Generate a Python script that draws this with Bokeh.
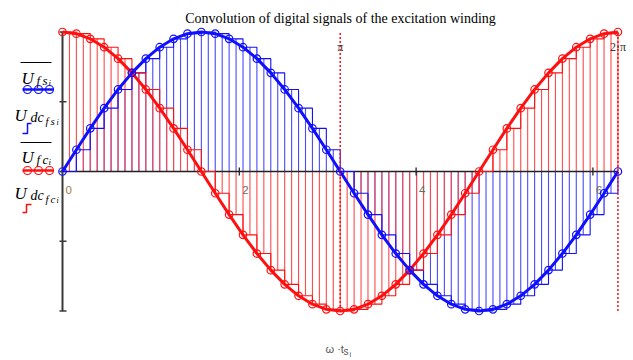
from bokeh.plotting import figure
from bokeh.models import Range1d, ColumnDataSource
from bokeh.core.properties import value
from bokeh.embed import file_html
from bokeh.resources import INLINE
import math

# ---------------- data ----------------
N_SAMPLES = 40                      # samples per period (read from the circles)
ts = [k * 2 * math.pi / N_SAMPLES for k in range(N_SAMPLES + 1)]   # sample instants (omega*t)

U_fs = [0.0, 0.156, 0.309, 0.454, 0.588, 0.707, 0.809, 0.891, 0.951, 0.988,
        1.0, 0.988, 0.951, 0.891, 0.809, 0.707, 0.588, 0.454, 0.309, 0.156,
        0.0, -0.156, -0.309, -0.454, -0.588, -0.707, -0.809, -0.891, -0.951, -0.988,
        -1.0, -0.988, -0.951, -0.891, -0.809, -0.707, -0.588, -0.454, -0.309, -0.156,
        0.0]
U_fc = [1.0, 0.988, 0.951, 0.891, 0.809, 0.707, 0.588, 0.454, 0.309, 0.156,
        0.0, -0.156, -0.309, -0.454, -0.588, -0.707, -0.809, -0.891, -0.951, -0.988,
        -1.0, -0.988, -0.951, -0.891, -0.809, -0.707, -0.588, -0.454, -0.309, -0.156,
        0.0, 0.156, 0.309, 0.454, 0.588, 0.707, 0.809, 0.891, 0.951, 0.988,
        1.0]

x_ticks = [0, 2, 4, 6]
x_tick_labels = ["0", "2", "4", "6"]
y_ticks = [-1, -0.5, 0, 0.5, 1]
markers = [math.pi, 2 * math.pi]
marker_labels = ["π", "2·π"]

title = "Convolution of digital signals of the excitation winding"

BLUE = "#1010ff"
RED = "#ff1010"
BLUE_STEM = "#4a4aff"
RED_STEM = "#ff4a4a"

# ---------------- pixel helpers (frame fills the whole canvas) ----------------
W, H = 633, 360
X0, SX = 62.0, 88.4      # px of x=0, px per unit
Y0, SY = 171.0, 139.5    # px of y=0, px per unit


def X(px):
    return (px - X0) / SX


def Y(py):
    return (Y0 - py) / SY


p = figure(width=W, height=H, output_backend="svg", toolbar_location=None,
           x_range=Range1d(X(0), X(W)), y_range=Range1d(Y(H), Y(0)),
           x_axis_location=None, y_axis_location=None, title=None, min_border=0)
p.grid.visible = False
p.outline_line_color = None
p.background_fill_color = "white"


def txt(px, py, s, size, color="black", font="Liberation Serif", style="normal",
        align="left", baseline="alphabetic"):
    p.text(x=[X(px)], y=[Y(py)], text=[s], text_font=value(font),
           text_font_size=f"{size}px", text_color=color, text_font_style=style,
           text_align=align, text_baseline=baseline)


# ---------------- stems (bars of the held signals): blue first, red on top ----------------
h = ts[1] - ts[0]
for series, col in ((U_fs, BLUE_STEM), (U_fc, RED_STEM)):
    sx, sy = [], []
    for k in range(N_SAMPLES + 1):
        positions = [ts[k]] if k == N_SAMPLES else [ts[k], ts[k] + h / 2]
        for xp in positions:
            sx.append(xp)
            sy.append(series[k])
    src = ColumnDataSource(dict(x0=sx, y0=[0] * len(sx), x1=sx, y1=sy))
    p.segment(x0="x0", y0="y0", x1="x1", y1="y1", line_color=col, line_width=1.1,
              source=src)

# ---------------- axes ----------------
p.segment(x0=[X(60)], y0=[0], x1=[2 * math.pi], y1=[0], line_color="#222222", line_width=1.3)
for t in x_ticks[1:]:
    p.segment(x0=[t], y0=[Y(167)], x1=[t], y1=[Y(175)], line_color="#222222", line_width=1.3)
for t, lab in zip(x_ticks, x_tick_labels):
    txt(X0 + t * SX + 3, 189, lab, 11.5, color="#a27a48" if lab == "0" else "#6f6a5e",
        font="Liberation Sans")
p.segment(x0=[0], y0=[-1], x1=[0], y1=[1], line_color="#3a3a3a", line_width=2)
for v in y_ticks:
    p.segment(x0=[X(59)], y0=[v], x1=[X(66)], y1=[v], line_color="#3a3a3a", line_width=1.5)

# ---------------- held (step) signals ----------------
p.step(ts, U_fs, mode="after", line_color=BLUE, line_width=1.1)
p.step(ts, U_fc, mode="after", line_color=RED, line_width=1.1)

# ---------------- continuous signals with circle markers ----------------
p.line(ts, U_fc, line_color=RED, line_width=3)
p.line(ts, U_fs, line_color=BLUE, line_width=3)
p.scatter(ts, U_fc, marker="circle", size=7.5, fill_color=None, line_color=RED, line_width=1.2)
p.scatter(ts, U_fs, marker="circle", size=7.5, fill_color=None, line_color=BLUE, line_width=1.2)

# ---------------- marker lines at pi and 2pi ----------------
for m, lab in zip(markers, marker_labels):
    p.segment(x0=[m], y0=[-1], x1=[m], y1=[1], line_color=RED, line_width=1.5,
              line_dash="2 2")
    txt(X0 + m * SX, 46, lab, 12, color="#333333", align="center")

# ---------------- title and x label ----------------
txt(340, 18, title, 14, align="center")
txt(325, 348, "ω ·t", 11, color="#555555", font="Liberation Sans")
txt(343, 351, "s", 10, color="#555555", font="Liberation Sans")
txt(349, 354, "i", 7.5, color="#555555", font="Liberation Sans")

# ---------------- left-hand legend (trace names) ----------------
# 1: overline U_{f s_i}
p.segment(x0=[X(20)], y0=[Y(62)], x1=[X(51)], y1=[Y(62)], line_color="black", line_width=1)
txt(21, 78, "U", 17, style="italic")
txt(36, 80, "f", 13, style="italic")
txt(42, 80, "s", 13, style="italic")
txt(48, 82, "i", 9, style="italic")
p.line([X(22), X(53)], [Y(89), Y(89)], line_color=BLUE, line_width=2.5)
p.scatter([X(27), X(38), X(49)], [Y(89)] * 3, marker="circle", size=8, fill_color=None,
          line_color=BLUE, line_width=1.2)
# 2: U_{dc_{f s_i}}
txt(14, 115, "U", 17, style="italic")
txt(30, 117, "dc", 14, style="italic")
txt(45, 120, "f", 11, style="italic")
txt(50, 120, "s", 11, style="italic")
txt(56, 122, "i", 8, style="italic")
p.line([X(22), X(27), X(27), X(31)], [Y(133), Y(133), Y(123), Y(123)],
       line_color=BLUE, line_width=1.5)
# 3: overline U_{f c_i}
p.segment(x0=[X(20)], y0=[Y(142)], x1=[X(51)], y1=[Y(142)], line_color="black", line_width=1)
txt(21, 157, "U", 17, style="italic")
txt(36, 159, "f", 13, style="italic")
txt(42, 159, "c", 13, style="italic")
txt(48, 161, "i", 9, style="italic")
p.line([X(22), X(53)], [Y(170), Y(170)], line_color=RED, line_width=2.5)
p.scatter([X(27), X(38), X(49)], [Y(170)] * 3, marker="circle", size=8, fill_color=None,
          line_color=RED, line_width=1.2)
# 4: U_{dc_{f c_i}}
txt(14, 193, "U", 17, style="italic")
txt(30, 195, "dc", 14, style="italic")
txt(45, 198, "f", 11, style="italic")
txt(50, 198, "c", 11, style="italic")
txt(56, 200, "i", 8, style="italic")
p.line([X(22), X(26), X(26), X(31)], [Y(212), Y(212), Y(204), Y(204)],
       line_color=RED, line_width=1.5)

open("out.html", "w").write(file_html(p, INLINE))
